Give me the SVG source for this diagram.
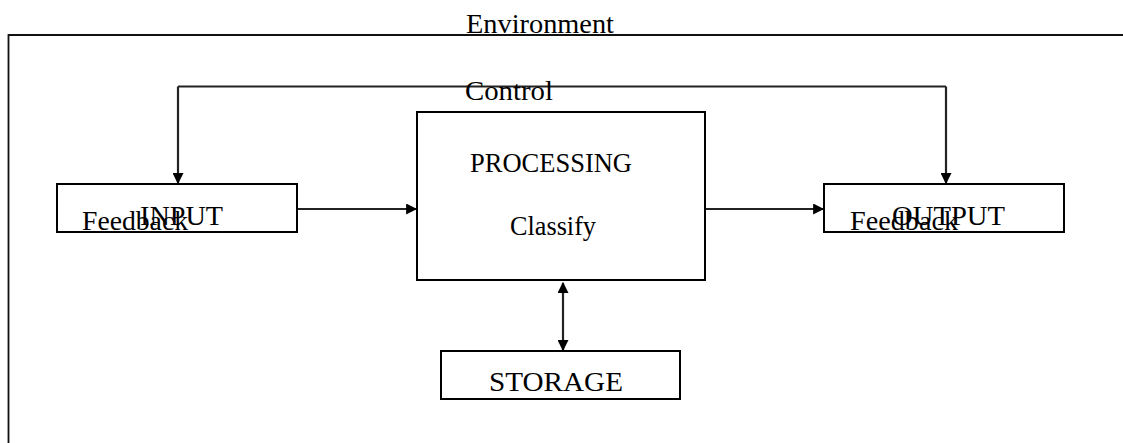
<svg xmlns="http://www.w3.org/2000/svg" width="1123" height="443" viewBox="0 0 1123 443">
  <style>
    .box { fill: #ffffff; stroke: #000000; stroke-width: 2; }
    .frame { fill: none; stroke: #111111; stroke-width: 1.8; }
    .conn { fill: none; stroke: #222222; stroke-width: 2.2; }
    .lbl { font-family: "Liberation Serif", "Times New Roman", serif; font-size: 27px; fill: #000000; }
  </style>
  <defs>
    <marker id="arr" viewBox="0 0 10 10" refX="9" refY="5" markerWidth="5" markerHeight="5" orient="auto" markerUnits="strokeWidth">
      <path d="M0,0 L10,5 L0,10 z" fill="#000000"/>
    </marker>
    <marker id="arrS" viewBox="0 0 10 10" refX="1" refY="5" markerWidth="5" markerHeight="5" orient="auto" markerUnits="strokeWidth">
      <path d="M10,0 L0,5 L10,10 z" fill="#000000"/>
    </marker>
  </defs>

  <g id="environment">
    <path class="frame" d="M8.5,443 L8.5,35 L1123,35"/>
    <text class="lbl" x="466" y="33" textLength="148" lengthAdjust="spacingAndGlyphs">Environment</text>
  </g>

  <g id="connectors">
    <path class="conn" d="M178,86.5 L946,86.5"/>
    <path class="conn" d="M178,86.5 L178,183" marker-end="url(#arr)"/>
    <path class="conn" d="M946,86.5 L946,183" marker-end="url(#arr)"/>
    <path class="conn" d="M297,209 L416,209" marker-end="url(#arr)"/>
    <path class="conn" d="M706,209 L823,209" marker-end="url(#arr)" stroke="#444444"/>
    <path class="conn" d="M563,283 L563,350" marker-start="url(#arrS)" marker-end="url(#arr)"/>
  </g>

  <g id="control-label">
    <text class="lbl" x="465" y="100" textLength="88" lengthAdjust="spacingAndGlyphs">Control</text>
  </g>

  <g id="input">
    <rect class="box" x="57" y="184" width="240" height="48"/>
    <text class="lbl" x="140" y="225" textLength="83" lengthAdjust="spacingAndGlyphs">INPUT</text>
    <text class="lbl" x="82" y="230" textLength="106" lengthAdjust="spacingAndGlyphs">Feedback</text>
  </g>

  <g id="processing">
    <rect class="box" x="417" y="112" width="288" height="168"/>
    <text class="lbl" x="470" y="172" textLength="162" lengthAdjust="spacingAndGlyphs">PROCESSING</text>
    <text class="lbl" x="510" y="235" textLength="86" lengthAdjust="spacingAndGlyphs">Classify</text>
  </g>

  <g id="output">
    <rect class="box" x="824" y="184" width="240" height="48"/>
    <text class="lbl" x="892" y="225" textLength="113" lengthAdjust="spacingAndGlyphs">OUTPUT</text>
    <text class="lbl" x="850" y="230" textLength="108" lengthAdjust="spacingAndGlyphs">Feedback</text>
  </g>

  <g id="storage">
    <rect class="box" x="441" y="351" width="239" height="48"/>
    <text class="lbl" x="489" y="391" textLength="134" lengthAdjust="spacingAndGlyphs">STORAGE</text>
  </g>
</svg>
